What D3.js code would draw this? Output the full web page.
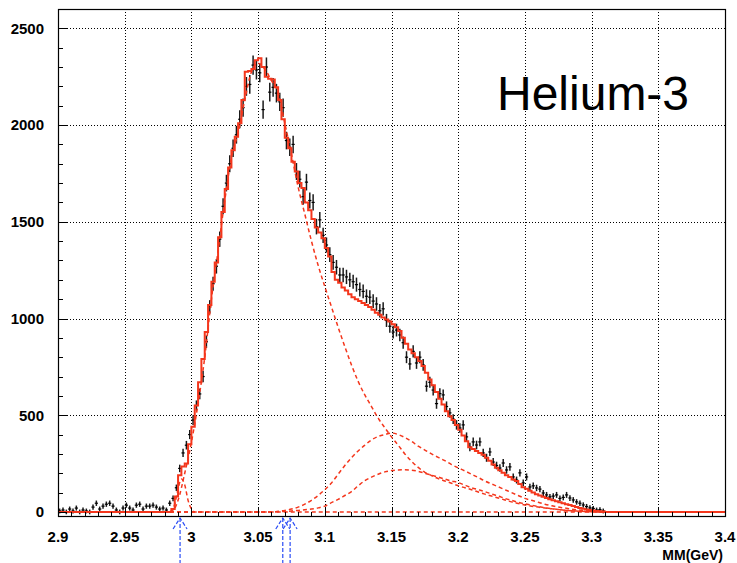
<!DOCTYPE html>
<html><head><meta charset="utf-8">
<script src="https://cdn.jsdelivr.net/npm/d3@7"></script>
<style>body{margin:0;background:#fff}svg{display:block}</style>
</head><body><svg id="c" width="737" height="563"></svg>
<script>
// ---------- data ----------
const binLow = 2.9, binWidth = 0.0025;
// measured counts per bin (2.900 ... 3.310)
const counts = [
  5,10,0,15,5,20,0,10,5,0, 25,45,15,30,40,45,30,10,0,20,
  35,20,10,35,40,15,30,30,35,25, 15,20,10,45,
  70,125,225,305,345,400,475,550,610,700,
  880,1060,1180,1270,1410,1580,1700,1800,1880,1950,
  2030,2090,2200,2210,2310,2285,2270,2080,2300,2170,
  2195,2165,2120,2090,1920,1885,1900,1760,1720,1630,
  1705,1610,1600,1475,1510,1430,1380,1330,1290,1265,
  1225,1225,1215,1200,1190,1175,1150,1140,1115,1110,
  1090,1075,1040,1050,990,960,930,940,915,875,
  800,765,830,770,800,760,650,670,630,560,
  612,605,545,512,480,450,434,450,388,336,
  362,346,362,305,280,310,258,240,227,253,
  217,233,181,165,202,150,181,129,135,124,
  118,98,88,78,82,88,70,75,88,72,
  62,52,45,36,28,21,18,10,12,5
];
// total fit histogram, bins starting at 2.985
const fitStart = 2.985;
const fitTotal = [
  15,80,190,235,250,350,440,550,670,790,
  930,1070,1190,1290,1420,1550,1670,1780,1870,1940,
  2010,2130,2275,2280,2290,2335,2345,2300,2250,2240,
  2235,2195,2130,2030,1935,1880,1810,1760,1700,1675,
  1600,1560,1515,1470,1445,1415,1365,1320,1240,1200,
  1185,1160,1145,1125,1110,1100,1090,1080,1070,1060,
  1045,1030,1020,1005,995,985,970,955,935,900,
  870,840,820,800,780,755,720,685,655,620,
  585,555,520,495,475,450,425,395,365,335,
  325,315,305,295,280,265,245,228,215,202,
  190,180,168,160,145,128,120,110,100,92,
  85,78,72,66,60,55,50,45,40,36,
  31,26,21,17,13,10,7,5,4,2
];
// fit components on a 0.005 grid from 2.980 to 3.310
const compStart = 2.98, compStep = 0.005;
const compA = [
  0,0,60,200,360, 560,800,1100,1350,1610,1830,1960,2130,2275,2320,
  2290,2230,2170,2010,1850,1680,1540,1400,1275,1165,
  1060,955,855,760,675,605,545,485,435,388,
  345,300,262,230,205,188,172,160,148,135,
  125,115,103,92,82,72,62,52,44,36,
  30,25,20,16,12,9,6,4,2,1, 0,0
];
const compB = [
  0,0,0,0,0, 0,0,0,0,0,0,0,0,0,0,0,
  0,3,8,15,25,40,60,85,115,
  150,195,240,280,315,345,372,390,400,408,
  400,385,365,340,320,300,282,265,245,228,
  212,195,178,160,145,130,115,100,85,70,
  60,50,40,32,25,20,14,10,6,4, 2,0
];
const compC = [
  0,0,0,0,0, 0,0,0,0,0,0,0,0,0,0,0,
  0,1,3,5,8,11,15,21,30,
  48,65,85,105,135,162,180,195,207,214,
  217,218,216,210,200,190,180,170,160,152,
  138,125,115,105,93,82,70,60,50,42,
  35,28,22,17,13,9,6,4,2,1, 0,0
];
// small component near threshold, 0.0025 grid from 2.980
const compDStart = 2.98, compDStep = 0.0025;
const compD = [0,0,5,40,120,170,140,60,15,0];
const arrowPositions = [2.9915, 3.0685, 3.074];
const xTicks = [2.9,2.95,3,3.05,3.1,3.15,3.2,3.25,3.3,3.35,3.4];
const xTickLabels = ["2.9","2.95","3","3.05","3.1","3.15","3.2","3.25","3.3","3.35","3.4"];
const yTicks = [0,500,1000,1500,2000,2500];
const yTickLabels = ["0","500","1000","1500","2000","2500"];
const xTitle = "MM(GeV)";
const plotLabel = "Helium-3";

// ---------- drawing ----------
const FONT = "'Liberation Sans', Arial, Helvetica, sans-serif";
const RED = "#f4361c";
const BLUE = "#2a4cf5";
const svg = d3.select("#c");
const x = d3.scaleLinear().domain([2.9, 3.4]).range([58, 725]);
const y = d3.scaleLinear().domain([-21, 2600]).range([516, 9]);
const [X0, X1] = x.range(), [Y0, Y1] = y.range();
const px = v => Math.round(v) + 0.5;

// grid
const grid = svg.append("g").attr("stroke", "#000").attr("stroke-width", 1).attr("stroke-dasharray", "1,2");
xTicks.slice(1, -1).forEach(t => grid.append("line").attr("x1", px(x(t))).attr("x2", px(x(t))).attr("y1", Y1).attr("y2", Y0));
yTicks.slice(1).forEach(t => grid.append("line").attr("y1", px(y(t))).attr("y2", px(y(t))).attr("x1", X0).attr("x2", X1));

// data points with error bars
const pts = svg.append("g");
counts.forEach((v, i) => {
  const cx = x(binLow + (i + 0.5) * binWidth);
  const e = Math.sqrt(v + 150);
  pts.append("line").attr("x1", cx).attr("x2", cx).attr("y1", y(v - e)).attr("y2", y(v + e))
    .attr("stroke", "#1a1a1a").attr("stroke-width", 1.5);
  pts.append("line").attr("x1", cx - 1.6).attr("x2", cx + 1.6).attr("y1", y(v)).attr("y2", y(v))
    .attr("stroke", "#000").attr("stroke-width", 1.2);
});

// components (dashed)
const compLine = d3.line().x(d => x(d[0])).y(d => y(d[1])).curve(d3.curveMonotoneX);
function compPoints(arr, start, step) {
  const p = [[x.domain()[0], 0]];
  arr.forEach((v, i) => p.push([start + i * step, v]));
  p.push([x.domain()[1], 0]);
  return p;
}
[[compA, compStart, compStep], [compB, compStart, compStep], [compC, compStart, compStep], [compD, compDStart, compDStep]]
  .forEach(([arr, s, st]) => {
    svg.append("path").attr("d", compLine(compPoints(arr, s, st)))
      .attr("fill", "none").attr("stroke", RED).attr("stroke-width", 1.5).attr("stroke-dasharray", "4,3");
  });

// total fit (step histogram)
const nBins = Math.round((x.domain()[1] - binLow) / binWidth);
const off = Math.round((fitStart - binLow) / binWidth);
const stepPts = [];
for (let i = 0; i < nBins; i++) {
  const j = i - off;
  const v = (j >= 0 && j < fitTotal.length) ? fitTotal[j] : 0;
  stepPts.push([binLow + i * binWidth, v]);
}
stepPts.push([x.domain()[1], stepPts[stepPts.length - 1][1]]);
svg.append("path").attr("d", d3.line().x(d => x(d[0])).y(d => y(d[1])).curve(d3.curveStepAfter)(stepPts))
  .attr("fill", "none").attr("stroke", RED).attr("stroke-width", 2);

// frame
svg.append("rect").attr("x", X0 + 0.5).attr("y", Y1 + 0.5).attr("width", X1 - X0).attr("height", Y0 - Y1)
  .attr("fill", "none").attr("stroke", "#000").attr("stroke-width", 1.2);

// x ticks
const ax = svg.append("g").attr("stroke", "#000").attr("stroke-width", 1);
d3.range(0, 51).forEach(k => {
  const t = 2.9 + k * 0.01;
  const len = (k % 5 === 0) ? 8 : 4;
  ax.append("line").attr("x1", px(x(t))).attr("x2", px(x(t))).attr("y1", Y0).attr("y2", Y0 - len);
});
// y ticks
d3.range(0, 26).forEach(k => {
  const t = k * 100;
  const len = (k % 5 === 0) ? 9 : 5;
  ax.append("line").attr("y1", px(y(t))).attr("y2", px(y(t))).attr("x1", X0).attr("x2", X0 + len);
});

// tick labels
xTicks.forEach((t, i) => svg.append("text").attr("x", x(t)).attr("y", 542).attr("text-anchor", "middle")
  .attr("font-family", FONT).attr("font-weight", "bold").attr("font-size", 15).text(xTickLabels[i]));
yTicks.forEach((t, i) => svg.append("text").attr("x", 44).attr("y", y(t)).attr("dy", "0.36em").attr("text-anchor", "end")
  .attr("font-family", FONT).attr("font-weight", "bold").attr("font-size", 15).text(yTickLabels[i]));

svg.append("text").attr("x", 723).attr("y", 560).attr("text-anchor", "end")
  .attr("font-family", FONT).attr("font-weight", "bold").attr("font-size", 14).text(xTitle);

svg.append("text").attr("x", 497).attr("y", 110)
  .attr("font-family", FONT).attr("font-size", 48).text(plotLabel);

// arrows
arrowPositions.forEach(a => {
  const ax0 = x(a);
  const g = svg.append("g").attr("stroke", BLUE).attr("stroke-width", 1.2).attr("fill", "none").attr("stroke-dasharray", "4,2");
  g.append("line").attr("x1", ax0).attr("x2", ax0).attr("y1", 518).attr("y2", 563);
  g.append("path").attr("d", `M${ax0 - 7},529 L${ax0},518 L${ax0 + 7},529`);
});
</script></body></html>
